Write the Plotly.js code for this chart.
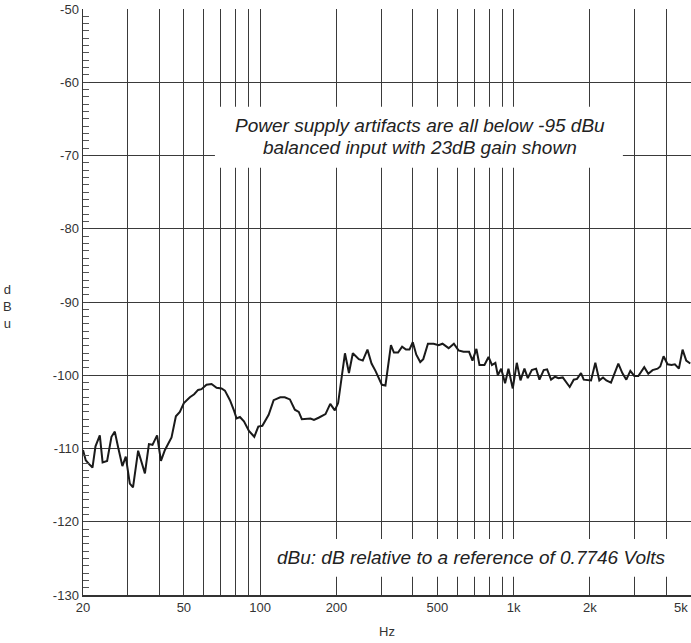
<!DOCTYPE html>
<html>
<head>
<meta charset="utf-8">
<script src="https://cdn.plot.ly/plotly-3.0.1.min.js"></script>
<style>html,body{margin:0;padding:0;background:#fff;}#chart{width:691px;height:643px;}</style>
</head>
<body>
<div id="chart"></div>
<script>
// Frequency (Hz) and level (dBu)
const freqHz = [
  20.0, 20.5, 21.1, 21.8, 22.4, 23.3, 23.9, 24.9, 25.9, 26.7, 27.5, 28.6, 29.5, 30.6, 31.5, 33.0,
  35.1, 36.4, 37.6, 39.2, 40.6, 42.1, 44.7, 46.5, 48.2, 50.0, 52.8, 54.9, 56.9, 58.7, 61.4, 64.3,
  67.3, 70.4, 72.6, 76.0, 78.8, 80.7, 83.2, 86.3, 90.3, 94.8, 98.3, 102, 108, 113, 120, 125,
  131, 137, 142, 146, 158, 163, 170, 181, 189, 197, 203, 210, 216, 224, 232, 245,
  254, 265, 275, 285, 302, 312, 328, 337, 350, 363, 376, 388, 400, 413, 428, 440,
  459, 483, 506, 524, 554, 581, 606, 634, 667, 688, 713, 733, 767, 796, 821, 847,
  866, 893, 925, 954, 992, 1029, 1064, 1103, 1137, 1179, 1226, 1264, 1314, 1355, 1405, 1457,
  1502, 1562, 1610, 1664, 1726, 1779, 1844, 1890, 2020, 2100, 2178, 2252, 2321, 2421, 2588, 2684,
  2783, 2886, 2992, 3103, 3275, 3397, 3533, 3696, 3787, 3904, 4048, 4197, 4326, 4487, 4639, 4796, 4974
];
const levelDbu = [
  -110.2, -111.6, -112.1, -112.6, -109.7, -108.2, -111.9, -111.7, -108.4, -107.7, -109.8, -112.4, -111.1, -114.8, -115.3, -110.3,
  -113.4, -109.4, -109.5, -108.2, -111.7, -110.2, -108.5, -105.6, -105.0, -103.8, -103.0, -102.6, -102.0, -101.9, -101.3, -101.2,
  -101.7, -101.8, -102.1, -103.4, -104.8, -105.9, -105.7, -106.3, -107.6, -108.4, -107.0, -106.9, -105.4, -103.4, -103.0, -103.0,
  -103.3, -104.7, -105.0, -106.0, -105.9, -106.1, -105.8, -105.3, -103.9, -104.8, -103.8, -100.0, -97.0, -99.7, -97.0, -97.8,
  -98.0, -96.5, -98.4, -99.4, -101.3, -101.4, -95.9, -96.9, -96.9, -96.1, -96.5, -96.5, -95.5, -97.2, -98.2, -97.8,
  -95.7, -95.7, -95.9, -95.7, -96.3, -95.7, -96.6, -96.8, -96.8, -98.0, -96.4, -98.6, -98.6, -97.5, -98.6, -98.3,
  -100.0, -99.1, -101.1, -99.1, -101.8, -98.3, -100.7, -99.1, -100.4, -99.3, -99.1, -100.6, -99.3, -99.2, -100.6, -100.2,
  -100.4, -100.3, -100.9, -101.6, -100.6, -100.5, -99.7, -100.6, -100.7, -98.3, -100.7, -100.3, -100.7, -101.0, -98.4, -99.7,
  -100.6, -99.4, -100.1, -100.1, -98.9, -99.8, -99.3, -99.1, -98.8, -97.4, -98.5, -98.6, -98.5, -99.1, -96.5, -98.0, -98.4
];
// Axis ticks / grid positions and labels (the last label, at the right edge, is drawn right-aligned)
const xTickVals = [20, 30, 40, 50, 60, 70, 80, 90, 100, 200, 300, 400, 500, 600, 700, 800, 900, 1000, 2000, 3000, 4000, 5000];
const xTickText = ['20', '', '', '50', '', '', '', '', '100', '200', '', '', '500', '', '', '', '', '1k', '2k', '', '', ''];
const xEdgeLabel = '5k';
const yTickVals = [-130, -120, -110, -100, -90, -80, -70, -60, -50];
const yTickText = ['-130', '-120', '-110', '-100', '-90', '-80', '-70', '-60', '-50'];
const noteTop1 = 'Power supply artifacts are all below -95 dBu';
const noteTop2 = 'balanced input with 23dB gain shown';
const noteBottom = 'dBu: dB relative to a reference of 0.7746 Volts';

const FONT = 'Liberation Sans, Arial, Helvetica, sans-serif';
const GRID = '#3a3a3a';

const trace = {
  x: freqHz, y: levelDbu, type: 'scatter', mode: 'lines',
  line: {color: '#1a1a1a', width: 2}, hoverinfo: 'skip'
};

const layout = {
  width: 691, height: 643,
  margin: {l: 83, r: 0, t: 9, b: 48},
  paper_bgcolor: '#fff', plot_bgcolor: '#fff',
  showlegend: false,
  font: {family: FONT, color: '#333', size: 13},
  xaxis: {
    type: 'log', range: [Math.log10(20), Math.log10(5008)],
    tickmode: 'array', tickvals: xTickVals, ticktext: xTickText,
    ticks: '', showgrid: true, gridcolor: GRID, gridwidth: 1,
    showline: true, linecolor: '#333', linewidth: 1.5,
    zeroline: false, tickfont: {size: 13, color: '#333'},
    title: {text: 'Hz', font: {size: 13, color: '#333'}, standoff: 13}
  },
  yaxis: {
    range: [-130, -50], tickmode: 'array', tickvals: yTickVals, ticktext: yTickText,
    ticks: 'inside', ticklen: 6, tickcolor: '#444',
    showgrid: true, gridcolor: GRID, gridwidth: 1,
    showline: true, linecolor: '#333', linewidth: 1.5, zeroline: false,
    tickfont: {size: 13, color: '#333'},
    minor: {dtick: 1, ticks: 'inside', ticklen: 6, tickcolor: '#555', showgrid: false}
  },
  shapes: [
    {type: 'rect', xref: 'paper', yref: 'paper', x0: 0.217, x1: 0.888, y0: 0.729, y1: 0.833,
     fillcolor: '#fff', line: {width: 0}, layer: 'above'},
    {type: 'rect', xref: 'paper', yref: 'paper', x0: 0.298, x1: 0.979, y0: 0.031, y1: 0.0956,
     fillcolor: '#fff', line: {width: 0}, layer: 'above'}
  ],
  annotations: [
    {text: '<i>' + noteTop1 + '</i>', xref: 'paper', yref: 'paper', x: 0.5543, y: 0.802,
     showarrow: false, xanchor: 'center', yanchor: 'middle', font: {size: 19, color: '#222', family: FONT}},
    {text: '<i>' + noteTop2 + '</i>', xref: 'paper', yref: 'paper', x: 0.5543, y: 0.764,
     showarrow: false, xanchor: 'center', yanchor: 'middle', font: {size: 19, color: '#222', family: FONT}},
    {text: '<i>' + noteBottom + '</i>', xref: 'paper', yref: 'paper', x: 0.6382, y: 0.0648,
     showarrow: false, xanchor: 'center', yanchor: 'middle', font: {size: 19, color: '#222', family: FONT}},
    {text: 'd<br>B<br>u', xref: 'paper', yref: 'paper', x: -0.1234, y: 0.4915,
     showarrow: false, xanchor: 'center', yanchor: 'middle', font: {size: 13, color: '#333', family: FONT}},
    {text: xEdgeLabel, xref: 'paper', yref: 'paper', x: 1, y: 0, xanchor: 'right', yanchor: 'top',
     yshift: -3, xshift: -1, showarrow: false, font: {size: 13, color: '#333', family: FONT}}
  ]
};

Plotly.newPlot('chart', [trace], layout, {staticPlot: true, displayModeBar: false});
</script>
</body>
</html>
